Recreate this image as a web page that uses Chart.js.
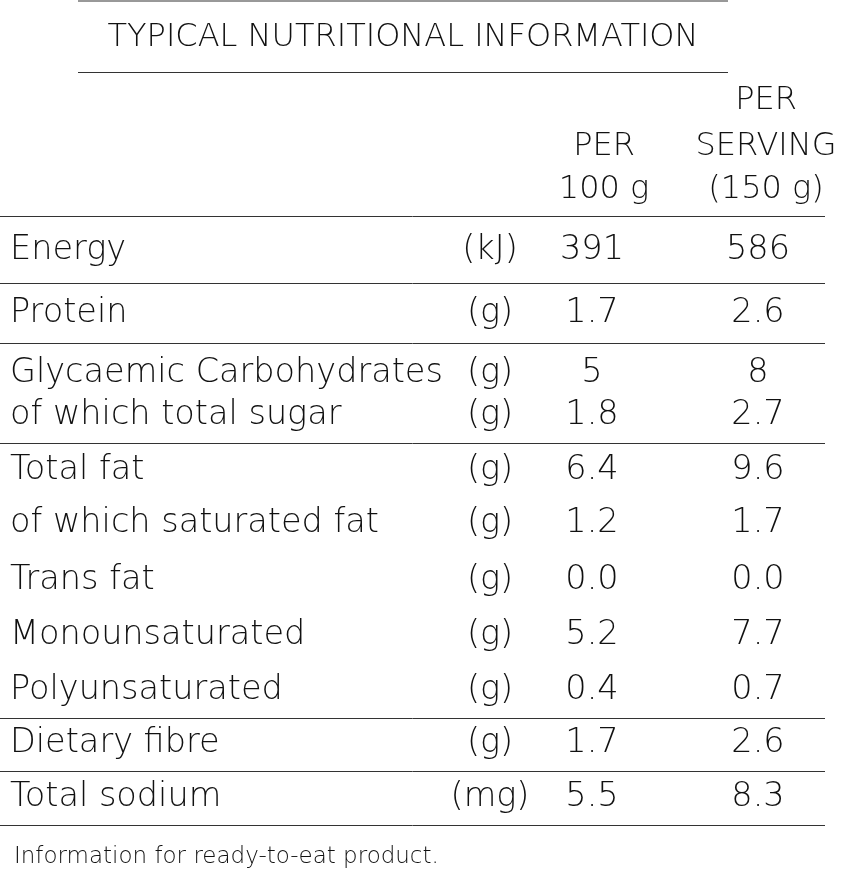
<!DOCTYPE html>
<html><head><meta charset="utf-8">
<script src="https://cdn.jsdelivr.net/npm/chart.js@4.4.0/dist/chart.umd.min.js"></script>
<style>html,body{margin:0;padding:0;background:#fff}#c{display:block}</style>
</head><body>
<div style="width:857px;height:878px"><canvas id="c"></canvas></div>
<script>
const title = "TYPICAL NUTRITIONAL INFORMATION";
const categories = ["Energy","Protein","Glycaemic Carbohydrates","of which total sugar","Total fat","of which saturated fat","Trans fat","Monounsaturated","Polyunsaturated","Dietary fibre","Total sodium"];
const units = ["(kJ)","(g)","(g)","(g)","(g)","(g)","(g)","(g)","(g)","(g)","(mg)"];
const per100 = ["391","1.7","5","1.8","6.4","1.2","0.0","5.2","0.4","1.7","5.5"];
const perServing = ["586","2.6","8","2.7","9.6","1.7","0.0","7.7","0.7","2.6","8.3"];
const footer = "Information for ready-to-eat product.";
// layout (pixel-space on linear scales)
const rowY = [250,313,373,415,470,523,580,635,690,743,797];
const rules = [216,283,343,443,718,771,825];
const colX = {label:10, unit:490, v1:592, v2:758};
const FONT = "'DejaVu Sans', 'Lato', sans-serif";

const tablePlugin = {
  id:'table',
  afterDraw(chart){
    const ctx = chart.ctx, xs = chart.scales.x, ys = chart.scales.y;
    const X = v=>xs.getPixelForValue(v), Y = v=>ys.getPixelForValue(v);
    ctx.save();
    ctx.fillStyle = '#111'; ctx.strokeStyle = '#333'; ctx.lineWidth = 1;
    const line=(x1,x2,y)=>{ctx.beginPath();ctx.moveTo(X(x1),Y(y)+0.5);ctx.lineTo(X(x2),Y(y)+0.5);ctx.stroke();};
    line(78,728,0.5); line(78,728,72);
    rules.forEach(r=>line(0,825,r));
    ctx.textBaseline='middle';
    ctx.font = "200 32px "+FONT; ctx.textAlign='center';
    ctx.fillText(title, X(403), Y(38));
    ctx.font = "200 32px "+FONT;
    ctx.fillText("PER", X(766), Y(101));
    ctx.fillText("PER", X(604), Y(147));
    ctx.fillText("SERVING", X(766), Y(147));
    ctx.fillText("100 g", X(604), Y(190));
    ctx.fillText("(150 g)", X(766), Y(190));
    ctx.font = "200 33.5px "+FONT;
    const meta = chart.getDatasetMeta(0), meta2 = chart.getDatasetMeta(1);
    categories.forEach((c,i)=>{
      ctx.textAlign='left'; ctx.fillText(c, X(colX.label), Y(rowY[i]));
      ctx.textAlign='center'; ctx.fillText(units[i], X(colX.unit), Y(rowY[i]));
      ctx.fillText(per100[i], meta.data[i].x, meta.data[i].y);
      ctx.fillText(perServing[i], meta2.data[i].x, meta2.data[i].y);
    });
    ctx.font = "200 23px "+FONT; ctx.textAlign='left';
    ctx.fillText(footer, X(14), Y(857));
    ctx.restore();
  }
};

new Chart(document.getElementById('c'), {
  type:'scatter',
  data:{datasets:[
    {data:per100.map((v,i)=>({x:colX.v1,y:rowY[i]})), pointRadius:0},
    {data:perServing.map((v,i)=>({x:colX.v2,y:rowY[i]})), pointRadius:0}
  ]},
  options:{
    responsive:true, maintainAspectRatio:false, animation:false,
    layout:{padding:0},
    plugins:{legend:{display:false},tooltip:{enabled:false}},
    scales:{
      x:{type:'linear',min:0,max:857,display:false},
      y:{type:'linear',min:0,max:878,reverse:true,display:false}
    }
  },
  plugins:[tablePlugin]
});
</script>
</body></html>
